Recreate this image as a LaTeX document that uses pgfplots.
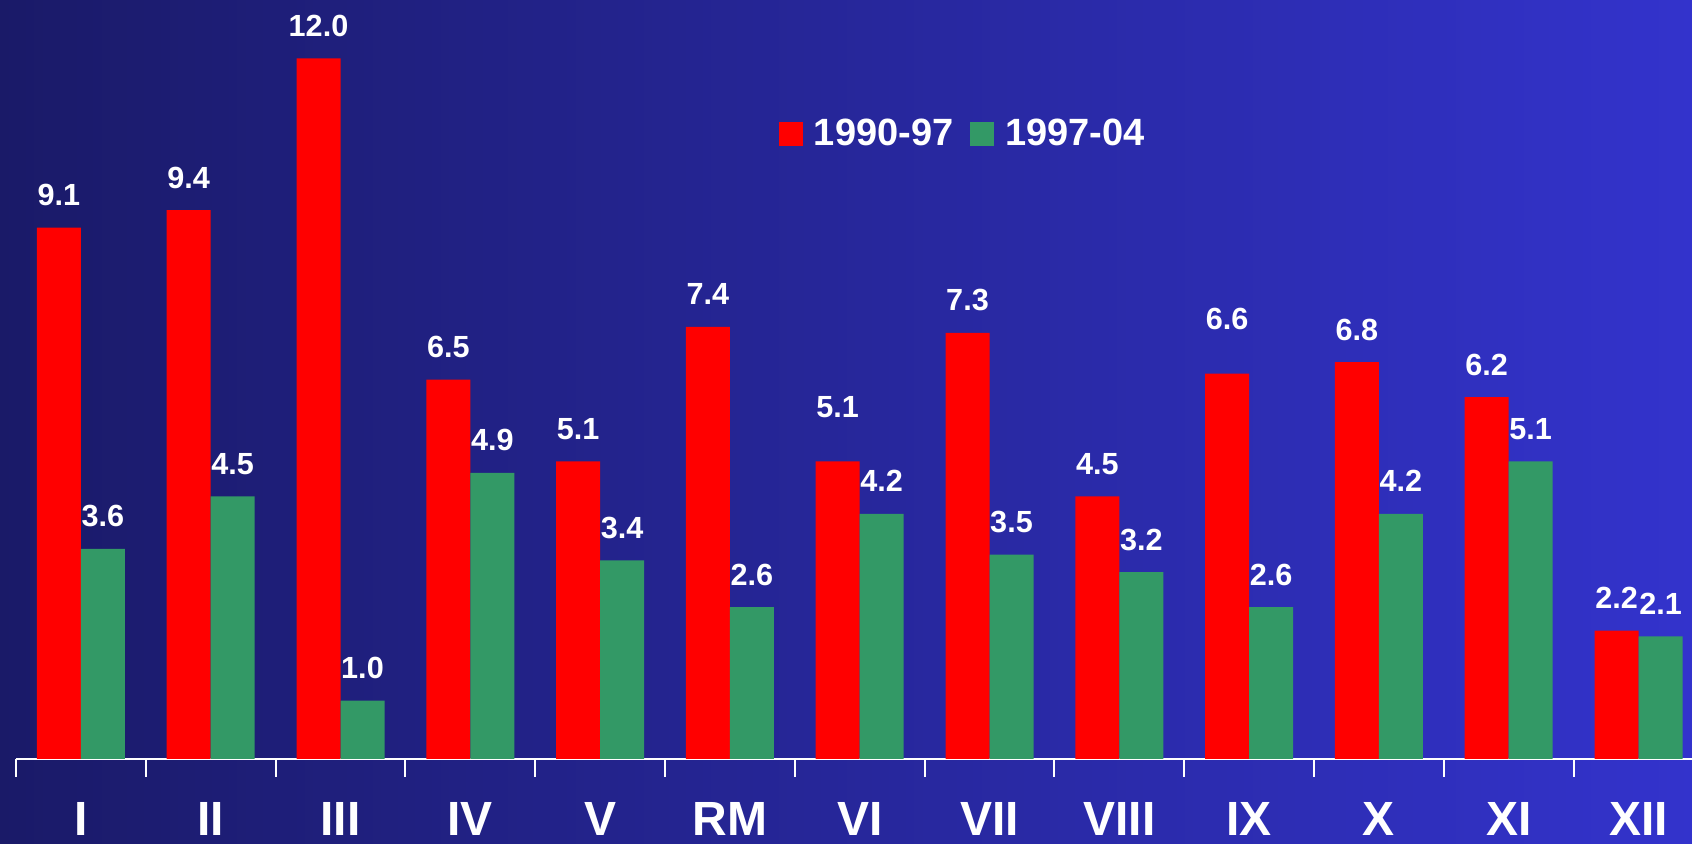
\documentclass[border=0pt]{standalone}
\usepackage{fontspec}
\setmainfont{Liberation Sans}
\usepackage{pgfplots}
\usepackage{pgfplotstable}
\pgfplotsset{compat=1.18}

\definecolor{bgleft}{RGB}{26,26,104}
\definecolor{bgright}{RGB}{51,51,204}
\definecolor{barred}{RGB}{255,0,0}
\definecolor{bargreen}{RGB}{51,153,102}

% x: category, a: 1990-97, b: 1997-04
\pgfplotstableread{
x  a    b
0  9.1  3.6
1  9.4  4.5
2  12.0 1.0
3  6.5  4.9
4  5.1  3.4
5  7.4  2.6
6  5.1  4.2
7  7.3  3.5
8  4.5  3.2
9  6.6  2.6
10 6.8  4.2
11 6.2  5.1
12 2.2  2.1
}\data

\begin{document}
\begin{tikzpicture}
\shade[left color=bgleft, right color=bgright] (0,0) rectangle (846pt,422pt);
\useasboundingbox (0,0) rectangle (846pt,422pt);
\begin{axis}[
    at={(8pt,42.5pt)}, anchor=south west,
    x=64.9pt, y=29.19pt,
    xmin=-0.5, xmax=12.41, ymin=0, ymax=13,
    ybar=0pt, bar width=22pt,
    hide y axis,
    axis x line*=bottom,
    x axis line style={white, line width=1pt, -},
    xtick={0,...,12},
    xticklabels={I,II,III,IV,V,RM,VI,VII,VIII,IX,X,XI,XII},
    major tick length=0pt,
    minor xtick={-0.5,0.5,...,11.5},
    minor tick length=9pt,
    tick align=outside,
    every minor tick/.style={white, line width=1pt},
    xticklabel style={anchor=base, yshift=-38.5pt, text=white,
        font=\bfseries\fontsize{24}{24}\selectfont},
    /pgf/number format/assume math mode=true,
    clip=false,
    nodes near coords={\pgfmathprintnumber[fixed,fixed zerofill,precision=1]{\pgfplotspointmeta}},
    every node near coord/.append style={anchor=base, yshift=11pt,
        text=white, font=\bfseries\fontsize{15.3}{15.3}\selectfont},
    legend style={at={(axis cs:5.378,10.71)}, anchor=west, draw=none, fill=none,
        text=white, font=\bfseries\fontsize{19}{19}\selectfont,
        inner sep=0pt, outer sep=0pt,
        /tikz/every odd column/.append style={column sep=3.5pt},
        /tikz/every even column/.append style={column sep=6.5pt}},
    legend columns=2,
]
\addplot[fill=barred, draw=none,
    legend image code/.code={\fill[barred] (0pt,-6pt) rectangle (12pt,6pt);},
    point meta=explicit,
    coordinate style/.condition={\coordindex==6 || \coordindex==9}{yshift=11pt}]
    table[x=x, y=a, meta=a] {\data};
\addlegendentry{1990-97}
\addplot[fill=bargreen, draw=none,
    legend image code/.code={\fill[bargreen] (0pt,-6pt) rectangle (12pt,6pt);},
    point meta=explicit]
    table[x=x, y=b, meta=b] {\data};
\addlegendentry{1997-04}
\end{axis}
\end{tikzpicture}
\end{document}
